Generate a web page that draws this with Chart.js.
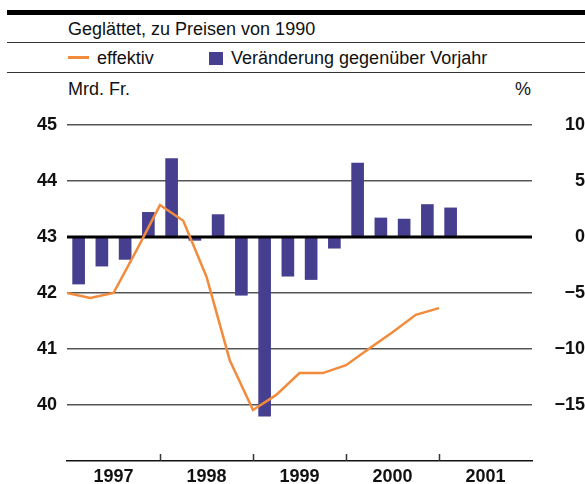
<!DOCTYPE html>
<html>
<head>
<meta charset="utf-8">
<script src="https://cdn.jsdelivr.net/npm/chart.js@4.4.1/dist/chart.umd.min.js"></script>
<style>
  html, body { margin: 0; padding: 0; background: #fff; }
  #wrap { position: relative; width: 585px; height: 484px; overflow: hidden; font-family: "Liberation Sans", Arial, sans-serif; color: #111; }
  #wrap canvas { position: absolute; left: 0; top: 0; }
  .hl { position: absolute; left: 7px; width: 578px; }
  .txt { position: absolute; font-size: 18px; line-height: 18px; white-space: nowrap; }
</style>
</head>
<body>
<div id="wrap">
  <div class="hl" style="top:10px;height:5px;background:#000;"></div>
  <div class="txt" style="left:68px;top:20px;">Geglättet, zu Preisen von 1990</div>
  <div class="hl" style="top:42px;height:1px;background:#333;"></div>
  <div style="position:absolute;left:68px;top:56px;width:21px;height:2.5px;background:#f28b3b;"></div>
  <div class="txt" style="left:97px;top:49px;">effektiv</div>
  <div style="position:absolute;left:209px;top:52px;width:14px;height:13px;background:#463f8f;"></div>
  <div class="txt" style="left:231px;top:49px;">Veränderung gegenüber Vorjahr</div>
  <div class="hl" style="top:72px;height:1px;background:#333;"></div>
  <div class="txt" style="left:68px;top:80px;">Mrd. Fr.</div>
  <div class="txt" style="left:515px;top:80px;">%</div>
  <canvas id="c" width="585" height="484"></canvas>
</div>
<script>
// ---- data ----
const years = ['1997', '1998', '1999', '2000', '2001'];
const quartersPerYear = 4;
// Veränderung gegenüber Vorjahr (%), quarterly, from 1997 Q1
const changeValues = [-4.2, -2.6, -2.0, 2.2, 7.0, -0.3, 2.0, -5.2, -16.0, -3.5, -3.8, -1.0, 6.6, 1.7, 1.6, 2.9, 2.6];
// effektiv (Mrd. Fr.), at quarter boundaries from start of 1997
const effektivValues = [42.0, 41.91, 42.0, 42.77, 43.57, 43.29, 42.29, 40.80, 39.91, 40.18, 40.57, 40.57, 40.71, 41.01, 41.30, 41.61, 41.73];
const leftRange = [39, 45];
const rightRange = [-20, 10];

const ORANGE = '#f28b3b';
const BLUE = '#463f8f';
const nQ = years.length * quartersPerYear;

const zeroLinePlugin = {
  id: 'zeroLine',
  afterDatasetDraw(chart, args) {
    if (args.index !== 0) return;
    const y1 = chart.scales.y1;
    const ca = chart.chartArea;
    const ctx = chart.ctx;
    const py = y1.getPixelForValue(0);
    ctx.save();
    ctx.strokeStyle = '#000';
    ctx.lineWidth = 3;
    ctx.beginPath();
    ctx.moveTo(ca.left, py);
    ctx.lineTo(ca.right, py);
    ctx.stroke();
    ctx.restore();
  }
};

const yearTickPlugin = {
  id: 'yearTicks',
  afterDraw(chart) {
    const xs = chart.scales.x;
    const ctx = chart.ctx;
    const b = chart.chartArea.bottom;
    ctx.save();
    ctx.strokeStyle = '#333';
    ctx.lineWidth = 1.5;
    for (let k = quartersPerYear; k < nQ; k += quartersPerYear) {
      const px = Math.round(xs.getPixelForValue(k)) + 0.5;
      ctx.beginPath();
      ctx.moveTo(px, b - 7);
      ctx.lineTo(px, b);
      ctx.stroke();
    }
    ctx.restore();
  }
};

new Chart(document.getElementById('c'), {
  data: {
    datasets: [
      {
        type: 'bar',
        label: 'Veränderung gegenüber Vorjahr',
        yAxisID: 'y1',
        data: changeValues.map((v, i) => ({ x: i + 0.5, y: v })),
        backgroundColor: BLUE,
        barThickness: 12,
        order: 2
      },
      {
        type: 'line',
        label: 'effektiv',
        yAxisID: 'y',
        data: effektivValues.map((v, i) => ({ x: i, y: v })),
        borderColor: ORANGE,
        borderWidth: 2.5,
        pointRadius: 0,
        tension: 0,
        fill: false,
        order: 1
      }
    ]
  },
  plugins: [zeroLinePlugin, yearTickPlugin],
  options: {
    responsive: false,
    animation: false,
    events: [],
    layout: { padding: { top: 125, left: 0, right: 0, bottom: 0 } },
    plugins: { legend: { display: false }, tooltip: { enabled: false } },
    scales: {
      x: {
        type: 'linear',
        offset: false,
        min: 0,
        max: nQ,
        afterBuildTicks(scale) {
          scale.ticks = years.map((y, i) => ({ value: i * quartersPerYear + quartersPerYear / 2 }));
        },
        afterFit(scale) { scale.height = 23; },
        ticks: {
          callback: (v) => years[Math.round((v - quartersPerYear / 2) / quartersPerYear)],
          font: { family: 'Liberation Sans', size: 18, weight: 'bold' },
          color: '#111',
          padding: 5,
          maxRotation: 0,
          autoSkip: false
        },
        grid: { display: false, drawTicks: false, offset: false },
        border: { display: true, color: '#111', width: 1.5 }
      },
      y: {
        position: 'left',
        min: leftRange[0],
        max: leftRange[1],
        afterFit(scale) { scale.width = 67; },
        ticks: {
          stepSize: 1,
          callback: (v) => (v === leftRange[0] ? '' : String(v)),
          font: { family: 'Liberation Sans', size: 18, weight: 'bold' },
          color: '#111',
          padding: 10
        },
        grid: {
          drawTicks: false,
          color: (c) => (c.tick && (c.tick.value === 43 || c.tick.value === leftRange[0]) ? 'rgba(0,0,0,0)' : '#555'),
          lineWidth: 1.5
        },
        border: { display: false }
      },
      y1: {
        position: 'right',
        min: rightRange[0],
        max: rightRange[1],
        afterFit(scale) { scale.width = 53; },
        ticks: {
          stepSize: 5,
          crossAlign: 'far',
          callback: (v) => (v === rightRange[0] ? '' : String(v).replace('-', '\u2212')),
          font: { family: 'Liberation Sans', size: 18, weight: 'bold' },
          color: '#111',
          padding: 5
        },
        grid: { display: false, drawTicks: false },
        border: { display: false }
      }
    }
  }
});
</script>
</body>
</html>
